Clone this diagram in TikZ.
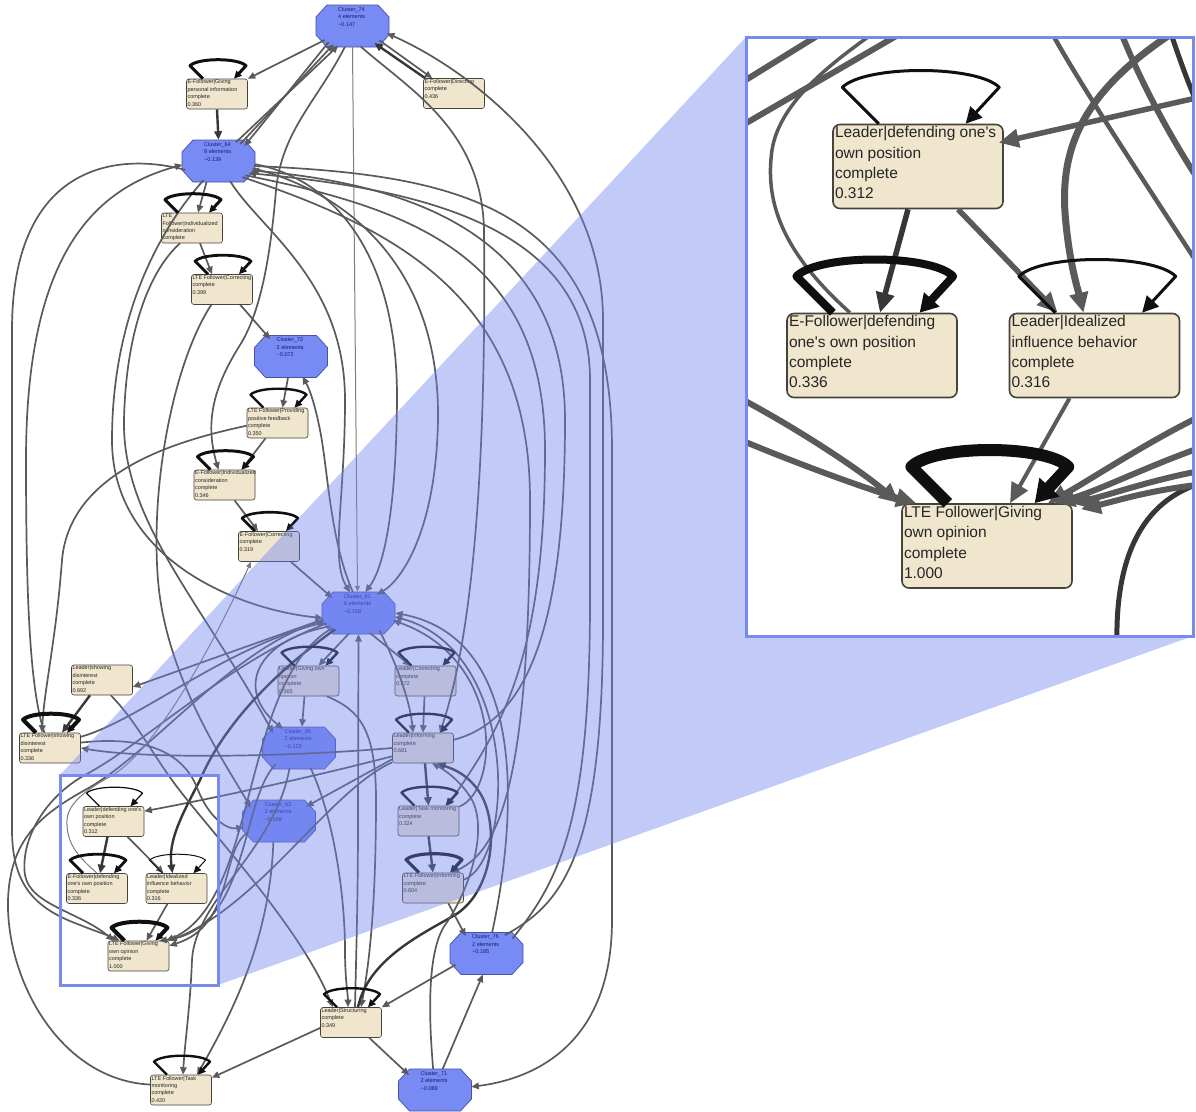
\documentclass[tikz,border=0pt]{standalone}
\usepackage{fontspec}
\setmainfont{Liberation Sans}
\usetikzlibrary{arrows.meta,shapes.geometric}

\definecolor{boxfill}{RGB}{240,230,206}
\definecolor{boxline}{RGB}{70,66,60}
\definecolor{clfill}{RGB}{120,138,244}
\definecolor{clline}{RGB}{70,82,165}
\definecolor{cltext}{RGB}{22,30,105}
\definecolor{edgegray}{RGB}{90,90,90}
\definecolor{edgedark}{RGB}{55,55,55}
\definecolor{edgelight}{RGB}{125,125,125}
\definecolor{loopblack}{RGB}{15,15,15}
\definecolor{veil}{RGB}{110,130,240}
\definecolor{framec}{RGB}{118,138,240}

\newcommand\smalltext{\fontsize{5.5pt}{7.4pt}\selectfont}
\newcommand\bigtext{\fontsize{15.5pt}{20.4pt}\selectfont}
\newcommand\bx[1]{\parbox[c][28pt][t]{59pt}{\smalltext\raggedright #1}}
\newcommand\zbx[1]{\parbox[c][80pt][t]{166pt}{\bigtext\raggedright #1}}
\newcommand\apo{\textquotesingle}

% cluster node: name, x, y, number, element count, value
% (an invisible ellipse carries the name, the octagon is drawn around it)
\newcommand\cluster[6]{%
  \node[clbase] (#1) at (#2,#3) {};
  \path[clpoly] ([shift={(-25.5pt,21pt)}]#1.center) -- ++(51,0) -- ++(11,12)
    -- ++(0,18) -- ++(-11,12) -- ++(-51,0) -- ++(-11,-12) -- ++(0,-18) -- cycle;
  \node[cltxt] (#1t) at ([xshift=-14.5pt,yshift=-2.5pt]#1.north)
    {Cluster\_#4\\#5 elements\\\textasciitilde#6};}

% self loop above a box: options, node, scale
\newcommand\sloop[3][]{%
  \draw[lp,#1] ([xshift={-14*#3*1pt}]#2.north) -- ++(-13*#3,-13*#3)
    .. controls +(8*#3,-8*#3) and +(-8*#3,-8*#3) .. ++(56*#3,0)
    -- ++(-12*#3,13*#3);}

\tikzset{
  box/.style={draw=boxline, fill=boxfill, rounded corners=2.5pt, line width=0.6pt,
    inner sep=1pt, text=black!85},
  zbox/.style={box, rounded corners=7pt, line width=1.6pt, inner sep=2pt},
  clbase/.style={ellipse, draw=none, minimum width=73pt, minimum height=42pt, inner sep=0pt},
  clpoly/.style={draw=clline, fill=clfill, line width=0.7pt, line join=round},
  cltxt/.style={text=cltext, align=left, font=\smalltext, inner sep=0pt, anchor=north west},
  ed/.style={draw=edgegray, line width=1.7pt, -{Triangle[length=7.5pt,width=6.5pt]}},
  edk/.style={ed, draw=edgedark, line width=2.4pt, -{Triangle[length=8.5pt,width=7.5pt]}},
  edt/.style={ed, draw=edgelight, line width=1.0pt, -{Triangle[length=6pt,width=5pt]}},
  lp/.style={draw=loopblack, line width=2.4pt, line join=round,
    -{Triangle[length=7.5pt,width=7pt]}},
  zed/.style={draw=edgegray, line width=5pt, -{Triangle[length=20pt,width=18pt]}},
  zln/.style={draw=edgegray, line width=5pt},
}

\begin{document}
\begin{tikzpicture}[x=1pt,y=-1pt]
\useasboundingbox (0,0) rectangle (1196,1111);
\fill[white] (0,0) rectangle (1196,1111);

% ---------------- process map nodes ----------------
\cluster{C74}{352.5}{26}{74}{4}{0.147}
\node[box] (EGiv) at (217,94) {\bx{E-Follower|Giving\\personal information\\complete\\0.360}};
\node[box] (EDir) at (454,93.5) {\bx{E-Follower|Directing\\complete\\0.436}};
\cluster{C64}{218.5}{161}{64}{8}{0.139}
\node[box] (LTEind) at (192,228) {\bx{LTE\\Follower|individualized\\consideration\\complete}};
\node[box] (LTECor) at (222,289.5) {\bx{LTE Follower|Correcting\\complete\\0.399}};
\cluster{C72}{291}{356.5}{72}{2}{0.072}
\node[box] (LTEProv) at (277.5,423) {\bx{LTE Follower|Providing\\positive feedback\\complete\\0.350}};
\node[box] (EInd) at (224.5,485) {\bx{\mbox{E-Follower|Individualized}\\consideration\\complete\\0.346}};
\node[box] (ECor) at (269,546.5) {\bx{E-Follower|Correcting\\complete\\0.319}};
\cluster{C61}{358.5}{613}{61}{8}{0.158}
\node[box] (LShow) at (102,680) {\bx{Leader|showing\\disinterest\\complete\\0.692}};
\node[box] (LGiv) at (308.5,681) {\bx{Leader|Giving own\\opinion\\complete\\0.565}};
\node[box] (LCorr) at (425.5,681) {\bx{Leader|Correcting\\complete\\0.272}};
\node[box] (LTEShow) at (50,748) {\bx{LTE Follower|showing\\disinterest\\complete\\0.336}};
\cluster{C65}{299}{748}{65}{2}{0.123}
\node[box] (LInf) at (423,748) {\bx{Leader|Informing\\complete\\0.681}};
\cluster{C63}{279}{821}{63}{2}{0.169}
\node[box] (LTask) at (428.5,821) {\bx{Leader|Task monitoring\\complete\\0.324}};
\node[box] (LDef) at (113.5,821.5) {\bx{Leader|defending one\apo s\\own position\\complete\\0.312}};
\node[box] (EDef) at (97,888.5) {\bx{E-Follower|defending\\one\apo s own position\\complete\\0.336}};
\node[box] (Ideal) at (176.5,888.5) {\bx{Leader|Idealized\\influence behavior\\complete\\0.316}};
\node[box] (LTEInf) at (433,888) {\bx{LTE Follower|Informing\\complete\\0.604}};
\node[box] (LTEGiv) at (138.5,956) {\bx{LTE Follower|Giving\\own opinion\\complete\\1.000}};
\cluster{C76}{486.5}{953.5}{76}{2}{0.195}
\node[box] (Struct) at (351,1022.5) {\bx{Leader|Structuring\\complete\\0.349}};
\cluster{C71}{435}{1090}{71}{2}{0.089}
\node[box] (LTETask) at (181,1090) {\bx{LTE Follower|Task\\monitoring\\complete\\0.420}};

% ---------------- connectors: top part ----------------
\draw[ed] (C74) -- (EGiv.north east);
\draw[ed] (C64.38) -- (C74.224);
\draw[ed] (C64.47) -- (C74.234);
\draw[ed] (C74.214) -- (C64.30);
\draw[ed] (C74.-28) -- ([xshift=9pt]EDir.north west);
\draw[edk] ([xshift=2pt]EDir.north west) -- (C74.-38);
\draw[edt] (C74.south) -- ([xshift=-1pt]C61.north);
\draw[edk] (EGiv.south) -- (C64.north);
\draw[ed] (C74.250) .. controls (318,100) and (282,130) .. (276,190)
  .. controls (271,250) and (262,310) .. (240,345)
  .. controls (215,385) and (204,420) .. ([xshift=-6pt]EInd.north);
\draw[ed] (C74.-68) .. controls (410,90) and (482,130) .. (484,230)
  .. controls (486,420) and (478,620) .. ([xshift=-14pt]LInf.north east);
\draw[ed] (C64.-5) .. controls (330,178) and (398,250) .. (397,400)
  .. controls (396,520) and (382,570) .. (C61.72);
\draw[ed] (C64.-12) .. controls (340,190) and (440,260) .. (438,420)
  .. controls (436,530) and (402,580) .. (C61.45);
\draw[ed] (C76.45) .. controls (560,905) and (603,860) .. (603,620) -- (603,320)
  .. controls (603,170) and (470,70) .. (C74.-12);
\draw[ed] (C64.-8) .. controls (470,175) and (612,210) .. (612,450) -- (612,920)
  .. controls (612,1040) and (540,1078) .. (C71.5);
\draw[ed] (LInf.15) .. controls (530,720) and (565,620) .. (565,420)
  .. controls (565,240) and (420,185) .. (C64.-16);
\draw[ed] (C76.30) .. controls (560,880) and (590,820) .. (590,600) -- (590,380)
  .. controls (590,230) and (430,190) .. (C64.-22);
\draw[ed] (C64.-28) .. controls (420,210) and (545,260) .. (545,450)
  .. controls (545,660) and (500,730) .. ([xshift=-12pt]LTask.north east);
\draw[ed] (C64.-34) .. controls (400,230) and (530,300) .. (530,500)
  .. controls (530,780) and (500,850) .. ([xshift=-12pt]LTEInf.north east);

% chain on the upper left
\draw[ed] ([xshift=-12pt]C64.south) -- ([xshift=6pt]LTEind.north);
\draw[ed] ([xshift=8pt]LTEind.south) -- ([xshift=-10pt]LTECor.north);
\draw[ed] (LTECor.-40) -- (C72.140);
\draw[ed] ([xshift=-3pt]C72.south) -- ([xshift=5pt]LTEProv.north);
\draw[ed] ([xshift=-12pt]LTEProv.south) -- ([xshift=17pt]EInd.north);
\draw[ed] ([xshift=10pt]EInd.south) -- ([xshift=-11pt]ECor.north);
\draw[ed] (ECor.-35) -- (C61.150);
\draw[ed] (C61.105) .. controls (330,540) and (328,470) .. (320,430)
  .. controls (315,405) and (310,390) .. (C72.-60);
\draw[ed] (C64.-60) .. controls (260,230) and (345,280) .. (345,400)
  .. controls (345,500) and (330,560) .. (C61.112);
\draw[ed] (C64.232) .. controls (150,240) and (112,330) .. (112,440)
  .. controls (112,560) and (240,610) .. (C61.188);
\draw[ed] (LTECor.235) .. controls (175,360) and (150,480) .. (158,580)
  .. controls (166,680) and (230,770) .. (C63.155);
\draw[ed] (LTEind.232) .. controls (150,270) and (126,330) .. (124,420)
  .. controls (122,520) and (200,600) .. (C65.150);
\draw[ed] (LTEProv.185) .. controls (180,440) and (70,470) .. (62,560)
  .. controls (56,640) and (44,690) .. ([xshift=-8pt]LTEShow.north);

% far left
\draw[ed] (C64.195) .. controls (110,150) and (12,170) .. (12,330) -- (12,830)
  .. controls (12,890) and (40,910) .. (80,925)
  .. controls (95,931) and (110,936) .. ([xshift=12pt]LTEGiv.north west);
\draw[ed] (LTEShow.110) .. controls (30,690) and (26,600) .. (26,460)
  .. controls (26,260) and (90,190) .. (C64.186);
\draw[ed] (C61.198) .. controls (230,660) and (150,740) .. (85,775)
  .. controls (45,797) and (20,840) .. (25,875)
  .. controls (30,905) and (80,912) .. ([xshift=6pt]LTEGiv.north west);
\draw[ed] (LTETask.170) .. controls (60,1080) and (6,980) .. (8,900)
  .. controls (10,840) and (40,815) .. (85,790)
  .. controls (150,755) and (230,650) .. (C61.192);

% middle band around Cluster_61
\draw[ed] (C61.190) -- ([yshift=-7pt]LShow.east);
\draw[edk] ([xshift=-12pt]LShow.south) -- ([xshift=12pt]LTEShow.north);
\draw[ed] (LTEShow.20) .. controls (140,720) and (220,650) .. (C61.195);
\draw[ed] (C61.-115) -- ([xshift=10pt]LGiv.north);
\draw[ed] (C61.-60) -- ([xshift=-15pt]LCorr.north);
\draw[ed] ([xshift=-1pt]LCorr.south) -- (LInf.north);
\draw[ed] (C61.-40) .. controls (395,660) and (410,700) .. ([xshift=-10pt]LInf.north);
\draw[ed] ([xshift=-4pt]LGiv.south) -- ([xshift=3pt]C65.north);
\draw[ed] (C61.205) .. controls (255,640) and (235,690) .. (C65.130);
\draw[edk] ([xshift=2pt]LInf.south) -- (LTask.north);
\draw[edk] (LTask.south) -- (LTEInf.north);
\draw[ed] (LTask.25) .. controls (500,790) and (505,660) .. (C61.-12);
\draw[ed] (LTEInf.15) .. controls (515,860) and (520,650) .. (C61.-6);
\draw[ed] (C76.75) .. controls (510,850) and (540,640) .. (C61.0);
\draw[ed] (LInf.200) -- (C63.28);
\draw[ed] (LInf.180) .. controls (300,756) and (150,760) .. (LTEShow.east);

% into the lower left group
\draw[ed] (LInf.195) .. controls (320,775) and (230,795) .. ([yshift=-5pt]LDef.north east);
\draw[edk] (C61.215) .. controls (250,690) and (215,745) .. (200,780)
  .. controls (182,815) and (168,840) .. ([xshift=-4pt]Ideal.north);
\draw[ed] (C61.210) .. controls (240,680) and (260,900) .. ([xshift=-3pt]LTEGiv.north east);
\draw[ed] (LInf.205) .. controls (330,790) and (260,905) .. (LTEGiv.north east);
\draw[ed] (C63.200) .. controls (220,850) and (235,925) .. ([yshift=-5pt]LTEGiv.north east);
\draw[ed] (C65.215) .. controls (240,800) and (250,930) .. ([xshift=-10pt]LTEGiv.north east);
\draw[ed] (LShow.-60) .. controls (135,720) and (150,750) .. (172,780)
  .. controls (200,820) and (300,925) .. (Struct.140);
\draw[ed] (LTEShow.10) .. controls (150,735) and (185,755) .. (198,790)
  .. controls (208,815) and (225,830) .. (C63.190);
\draw[edt] (EDef.north) .. controls (80,858) and (66,845) .. (67,820)
  .. controls (68,800) and (95,785) .. (113,775)
  .. controls (160,745) and (215,640) .. ([xshift=-18pt]ECor.south);
\draw[edk] ([xshift=-6pt]LDef.south) -- ([xshift=3pt]EDef.north);
\draw[ed] ([xshift=14pt]LDef.south) -- ([xshift=-13pt]Ideal.north);
\draw[ed] ([xshift=-9pt]Ideal.south) -- ([xshift=8pt]LTEGiv.north);

% bottom part
\draw[ed] (C65.-115) .. controls (275,850) and (195,900) .. (192,960)
  .. controls (190,1010) and (185,1040) .. ([xshift=2pt]LTETask.north);
\draw[ed] (C63.-105) .. controls (270,930) and (240,1000) .. ([xshift=16pt]LTETask.north);
\draw[ed] (Struct.190) -- ([yshift=-3pt]LTETask.north east);
\draw[ed] ([xshift=4pt]Struct.north) .. controls (356,960) and (358,900) .. (358,820)
  -- (C61.south);
\draw[ed] (LGiv.-40) .. controls (360,710) and (376,730) .. (376,800)
  .. controls (376,900) and (370,960) .. ([xshift=10pt]Struct.north);
\draw[ed] (C65.-60) .. controls (335,820) and (345,900) .. (345,950)
  .. controls (345,980) and (348,995) .. ([xshift=-3pt]Struct.north);
\draw[edk] ([xshift=7pt]Struct.north) .. controls (368,960) and (420,935) .. (455,915)
  .. controls (495,890) and (500,820) .. (478,790)
  .. controls (465,772) and (450,768) .. ([xshift=14pt]LInf.south);
\draw[ed] (C71.95) .. controls (428,1010) and (428,950) .. (445,925)
  .. controls (470,890) and (488,830) .. (472,800)
  .. controls (462,782) and (445,770) .. ([xshift=9pt]LInf.south);
\draw[ed] (LTEInf.-45) -- (C76.140);
\draw[ed] (C76.200) -- (Struct.north east);
\draw[ed] (Struct.-40) -- (C71.150);
\draw[ed] (C71.70) -- (C76.-100);

% self loops
\sloop[line width=3pt]{EGiv}{1}
\sloop[line width=3pt]{LTEind}{1}
\sloop[line width=2.8pt]{LTECor}{1}
\sloop[line width=2.4pt]{LTEProv}{1}
\sloop[line width=3pt]{EInd}{1}
\sloop[line width=2.6pt]{ECor}{1}
\sloop[line width=4pt]{LTEShow}{1}
\sloop[line width=2.4pt]{LGiv}{1}
\sloop[line width=2.4pt]{LCorr}{1}
\sloop[line width=2.4pt]{LInf}{1}
\sloop[line width=2.4pt]{LTask}{1}
\sloop[line width=3.2pt]{LTEInf}{1}
\sloop[line width=1.2pt]{LDef}{1}
\sloop[line width=2.8pt]{EDef}{1}
\sloop[line width=1.0pt]{Ideal}{1}
\sloop[line width=4pt]{LTEGiv}{1}
\sloop[line width=2.4pt]{Struct}{1}
\sloop[line width=2.4pt]{LTETask}{1}

% ---------------- magnifier veil ----------------
\fill[veil, fill opacity=0.42] (60,775) -- (746,37) -- (1193,636) -- (218,985)
  -- (218,775) -- cycle;

% ---------------- enlarged view ----------------
\begin{scope}
  \fill[white] (746,37) rectangle (1193,636);
  \clip (746,37) rectangle (1193,636);
  \node[zbox] (zLDef) at (918,166.5) {\zbx{Leader|defending one\apo s\\own position\\complete\\0.312}};
  \node[zbox] (zEDef) at (872,355.5) {\zbx{E-Follower|defending\\one\apo s own position\\complete\\0.336}};
  \node[zbox] (zIdeal) at (1094.5,355.5) {\zbx{Leader|Idealized\\influence behavior\\complete\\0.316}};
  \node[zbox] (zLTEGiv) at (987,546) {\zbx{LTE Follower|Giving\\own opinion\\complete\\1.000}};

  \coordinate (zR1) at (1205,96);
  \coordinate (zT1) at (1185,25);
  \coordinate (zT2) at (1045,20);
  \coordinate (zR2) at (1205,275);
  \coordinate (zT3) at (1116,20);
  \coordinate (zR3) at (1205,190);
  \coordinate (zL1) at (736,86);
  \coordinate (zT4) at (830,28);
  \coordinate (zL2) at (736,129);
  \coordinate (zT5) at (910,28);
  \coordinate (zT6) at (885,25);
  \coordinate (zL3) at (736,396);
  \coordinate (zL4) at (736,438);
  \coordinate (zR4) at (1205,414);
  \coordinate (zR5) at (1205,446);
  \coordinate (zR6) at (1205,470);
  \coordinate (zR7) at (1205,484);
  \coordinate (zB1) at (1117,645);
  \coordinate (zR8) at (1205,482);
  \coordinate (zT7) at (1168,25);
  \coordinate (zR9) at (1205,120);

  % passing curves
  \draw[zln, line width=6pt] (zL1) -- (zT4);
  \draw[zln, line width=6pt] (zL2) -- (zT5);
  \draw[zln, line width=4.5pt] (zT2) .. controls (1070,70) and (1150,190) .. (zR2);
  \draw[zln, line width=6pt] (zT3) .. controls (1135,70) and (1165,130) .. (zR3);
  \draw[zln, line width=5pt, draw=edgedark] (zT7) .. controls (1180,60) and (1190,90) .. (zR9);
  \draw[zln, line width=5pt, draw=edgedark] (zB1) .. controls (1115,560) and (1140,500) .. (zR8);
  \draw[zln, line width=3.5pt] ([xshift=-22pt]zEDef.north) .. controls (780,250) and (765,200) .. (772,150)
    .. controls (780,100) and (835,60) .. (zT6);

  % connectors
  \draw[zed, draw=edgedark, line width=5.5pt] ([xshift=-10pt]zLDef.south) -- ([xshift=8pt]zEDef.north);
  \draw[zed, line width=5.5pt] ([xshift=40pt]zLDef.south) -- ([xshift=-37pt]zIdeal.north);
  \draw[zed, line width=4pt] ([xshift=-25pt]zIdeal.south) -- ([xshift=23pt]zLTEGiv.north);
  \draw[zed, line width=5.5pt] (zR1) -- ([yshift=-19pt,xshift=-5pt]zLDef.north east);
  \draw[zed, line width=7pt] (zT1) .. controls (1080,90) and (1058,150) .. (1066,224)
    .. controls (1070,265) and (1078,290) .. ([xshift=-11pt]zIdeal.north);
  \draw[zed, line width=6pt] (zL3) .. controls (800,430) and (860,470) .. ([xshift=-2pt]zLTEGiv.north west);
  \draw[zed, line width=6pt] (zL4) .. controls (800,465) and (870,490) .. ([xshift=15pt]zLTEGiv.north west);
  \draw[zed, line width=6pt] (zR4) .. controls (1150,440) and (1090,480) .. ([xshift=-25pt]zLTEGiv.north east);
  \draw[zed, line width=6pt] (zR5) .. controls (1150,465) and (1100,490) .. ([xshift=-18pt]zLTEGiv.north east);
  \draw[zed, line width=6pt] (zR6) .. controls (1150,480) and (1110,495) .. ([xshift=-2pt]zLTEGiv.north east);
  \draw[zed, line width=6pt] (zR7) .. controls (1150,490) and (1120,500) .. ([yshift=-6pt,xshift=8pt]zLTEGiv.north east);

  % self loops
  \sloop[line width=3pt, -{Triangle[length=16pt,width=16pt]}]{zLDef}{2.8}
  \sloop[line width=8pt, -{Triangle[length=18pt,width=20pt]}]{zEDef}{2.8}
  \sloop[line width=3pt, -{Triangle[length=16pt,width=16pt]}]{zIdeal}{2.8}
  \sloop[line width=12pt, -{Triangle[length=22pt,width=26pt]}]{zLTEGiv}{2.8}
\end{scope}

% frames of the magnifier
\draw[framec, line width=3pt] (746,37) rectangle (1193,636);
\draw[framec, line width=3pt] (60,775) rectangle (218,985);
\end{tikzpicture}
\end{document}
